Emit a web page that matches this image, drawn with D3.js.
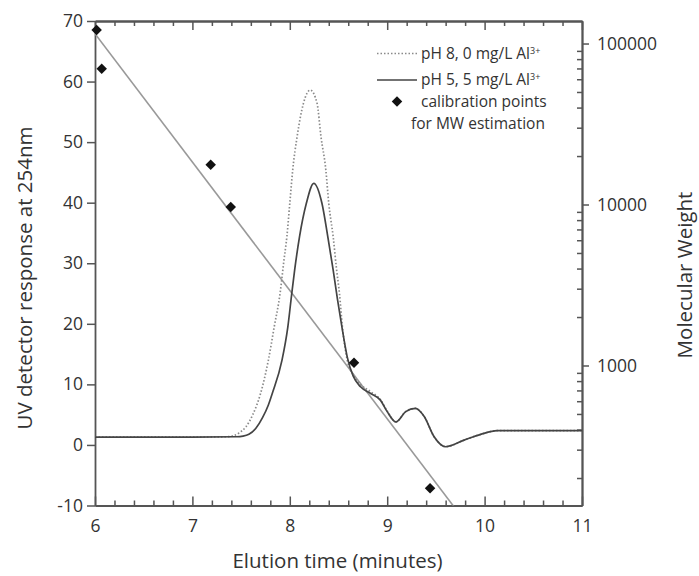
<!DOCTYPE html>
<html><head><meta charset="utf-8">
<script src="https://cdn.jsdelivr.net/npm/d3@7/dist/d3.min.js"></script>
<style>
body{margin:0;background:#fff}
text{font-family:"Open Sans",sans-serif;fill:#333}
</style>
</head><body>
<svg id="chart" width="699" height="576"></svg>
<script>
// ---- data ----
const timePH8 = [6.0, 7.0, 7.35, 7.42, 7.48, 7.55, 7.62, 7.70, 7.78, 7.84, 7.90, 7.94, 7.97, 8.0, 8.03, 8.075, 8.14, 8.21, 8.28, 8.32, 8.37, 8.40, 8.445, 8.48, 8.51, 8.54, 8.59, 8.65, 8.726, 8.83, 8.93, 9.0, 9.09, 9.19, 9.29, 9.38, 9.48, 9.60, 9.79, 9.96, 10.13, 11.0];
const uvPH8   = [1.3, 1.3, 1.35, 1.5, 2.0, 3.0, 5.0, 8.5, 14.0, 19.5, 25.0, 30.5, 34.4, 39.9, 45.4, 50.9, 56.4, 58.6, 56.4, 50.9, 45.4, 39.9, 34.4, 29.0, 25.0, 19.5, 14.0, 11.6, 10.0, 8.8, 7.5, 5.6, 3.8, 5.5, 6.05, 4.7, 1.4, -0.3, 0.8, 1.75, 2.35, 2.35];
const timePH5 = [6.0, 7.0, 7.45, 7.52, 7.58, 7.65, 7.72, 7.78, 7.82, 7.92, 7.98, 8.02, 8.05, 8.10, 8.17, 8.246, 8.33, 8.39, 8.445, 8.49, 8.54, 8.59, 8.65, 8.726, 8.83, 8.93, 9.0, 9.09, 9.19, 9.29, 9.38, 9.48, 9.60, 9.79, 9.96, 10.13, 11.0];
const uvPH5   = [1.3, 1.3, 1.35, 1.45, 1.75, 2.7, 4.5, 6.6, 8.5, 14.0, 19.5, 25.0, 28.9, 34.4, 39.9, 43.2, 39.9, 34.4, 28.9, 24.0, 19.0, 14.5, 11.4, 9.6, 8.5, 7.4, 5.5, 3.8, 5.5, 6.05, 4.7, 1.4, -0.3, 0.8, 1.75, 2.35, 2.35];
const calibTime = [6.017, 6.069, 7.188, 7.394, 8.659, 9.44];
const calibMW   = [121400, 69750, 17670, 9650, 1041, 173];
const calibIntercept = 9.844;   // log10(MW) = intercept + slope * t
const calibSlope = -0.7972;
const xTickValues = [6, 7, 8, 9, 10, 11];
const xTickLabels = ["6", "7", "8", "9", "10", "11"];
const yLeftTickValues = [-10, 0, 10, 20, 30, 40, 50, 60, 70];
const yLeftTickLabels = ["-10", "0", "10", "20", "30", "40", "50", "60", "70"];
const yRightTickValues = [1000, 10000, 100000];
const yRightTickLabels = ["1000", "10000", "100000"];
const legendLabels = ["pH 8, 0 mg/L Al", "pH 5, 5 mg/L Al", "calibration points", "for MW estimation"];
const legendSup = "3+";
const xTitle = "Elution time (minutes)";
const yLeftTitle = "UV detector response at 254nm";
const yRightTitle = "Molecular Weight";

// ---- layout ----
const L = 95, R = 582, T = 21, B = 505.5;
const axisColor = "#555";
const svg = d3.select("#chart");

const x = d3.scaleLinear().domain([6, 11]).range([L, R]);
const yL = d3.scaleLinear().domain([-10, 70]).range([B, T]);
const yR = d3.scaleLog().domain([135, 138000]).range([B, T]);

svg.append("defs").append("clipPath").attr("id", "clip")
  .append("rect").attr("x", L).attr("y", T).attr("width", R - L).attr("height", B - T);

// minor tick values
const xMinor = d3.range(6, 11.0001, 0.2).map(v => +v.toFixed(1)).filter(v => !xTickValues.includes(v));
const yRMinor = [];
[100, 1000, 10000].forEach(d => { for (let k = 2; k <= 9; k++) { const v = d * k; if (v >= 135 && v <= 138000) yRMinor.push(v); } });

function styleAxis(g) {
  g.selectAll("path.domain").attr("stroke", axisColor).attr("stroke-width", 1.8);
  g.selectAll(".tick line").attr("stroke", axisColor).attr("stroke-width", 1.5);
  g.selectAll(".tick text").attr("fill", "#333").style("font-family", '"Open Sans",sans-serif').style("font-size", "17.5px");
}

// bottom axis
svg.append("g").attr("transform", `translate(0,${B})`)
  .call(d3.axisBottom(x).tickValues(xTickValues).tickSize(-9).tickSizeOuter(0).tickPadding(14)
    .tickFormat((d, i) => xTickLabels[i]))
  .call(styleAxis);
svg.append("g").attr("transform", `translate(0,${B})`)
  .call(d3.axisBottom(x).tickValues(xMinor).tickSize(-5).tickSizeOuter(0).tickFormat(""))
  .call(styleAxis);
// top axis
svg.append("g").attr("transform", `translate(0,${T})`)
  .call(d3.axisTop(x).tickValues(xTickValues).tickSize(-9).tickSizeOuter(0).tickFormat(""))
  .call(styleAxis);
svg.append("g").attr("transform", `translate(0,${T})`)
  .call(d3.axisTop(x).tickValues(xMinor).tickSize(-5).tickSizeOuter(0).tickFormat(""))
  .call(styleAxis);
// left axis
svg.append("g").attr("transform", `translate(${L},0)`)
  .call(d3.axisLeft(yL).tickValues(yLeftTickValues).tickSize(8).tickSizeOuter(0).tickPadding(4)
    .tickFormat((d, i) => yLeftTickLabels[i]))
  .call(styleAxis);
// right axis
svg.append("g").attr("transform", `translate(${R},0)`)
  .call(d3.axisRight(yR).tickValues(yRightTickValues).tickSize(7).tickSizeOuter(0).tickPadding(8)
    .tickFormat((d, i) => yRightTickLabels[i]))
  .call(styleAxis);
svg.append("g").attr("transform", `translate(${R},0)`)
  .call(d3.axisRight(yR).tickValues(yRMinor).tickSize(-5).tickSizeOuter(0).tickFormat(""))
  .call(styleAxis);

// plot content
const plot = svg.append("g").attr("clip-path", "url(#clip)");

// calibration line
const tLine = [6, 11];
plot.append("path")
  .datum(tLine)
  .attr("d", d3.line().x(t => x(t)).y(t => yR(Math.pow(10, calibIntercept + calibSlope * t))))
  .attr("fill", "none").attr("stroke", "#999").attr("stroke-width", 1.6);

const lineL = d3.line().curve(d3.curveMonotoneX).x(d => x(d[0])).y(d => yL(d[1]));
plot.append("path")
  .datum(d3.zip(timePH8, uvPH8))
  .attr("d", lineL)
  .attr("fill", "none").attr("stroke", "#8a8a8a").attr("stroke-width", 1.7)
  .attr("stroke-dasharray", "1.5,2");
plot.append("path")
  .datum(d3.zip(timePH5, uvPH5))
  .attr("d", lineL)
  .attr("fill", "none").attr("stroke", "#444").attr("stroke-width", 1.7);

const diamond = d3.symbol().type(d3.symbolSquare).size(55);
svg.append("g").selectAll("path.cal")
  .data(d3.zip(calibTime, calibMW))
  .join("path")
  .attr("class", "cal")
  .attr("d", diamond)
  .attr("transform", d => `translate(${x(d[0])},${yR(d[1])}) rotate(45)`)
  .attr("fill", "#111");

// legend
const lg = svg.append("g");
const lfs = "15.5px";
lg.append("line").attr("x1", 377).attr("x2", 417).attr("y1", 53.5).attr("y2", 53.5)
  .attr("stroke", "#8a8a8a").attr("stroke-width", 1.6).attr("stroke-dasharray", "1.5,2");
lg.append("line").attr("x1", 377).attr("x2", 417).attr("y1", 80).attr("y2", 80)
  .attr("stroke", "#444").attr("stroke-width", 1.4);
lg.append("path").attr("d", diamond).attr("transform", "translate(397,101.5) rotate(45)").attr("fill", "#111");
const rows = [[421, 53.5], [421, 80], [421, 102], [411, 123.5]];
rows.forEach((r, i) => {
  const t = lg.append("text").attr("x", r[0]).attr("y", r[1]).attr("dy", "0.35em")
    .style("font-size", lfs).text(legendLabels[i]);
  if (i < 2) {
    t.append("tspan").attr("dy", "-0.55em").style("font-size", "9px").text(legendSup);
  }
});

// titles
svg.append("text").attr("x", 337.5).attr("y", 568).attr("text-anchor", "middle")
  .style("font-size", "20.5px").text(xTitle);
svg.append("text").attr("transform", "translate(24,278) rotate(-90)").attr("text-anchor", "middle")
  .attr("dominant-baseline", "central").style("font-size", "20.5px").text(yLeftTitle);
svg.append("text").attr("transform", "translate(684,275) rotate(-90)").attr("text-anchor", "middle")
  .attr("dominant-baseline", "central").style("font-size", "20.5px").text(yRightTitle);
</script>
</body></html>
